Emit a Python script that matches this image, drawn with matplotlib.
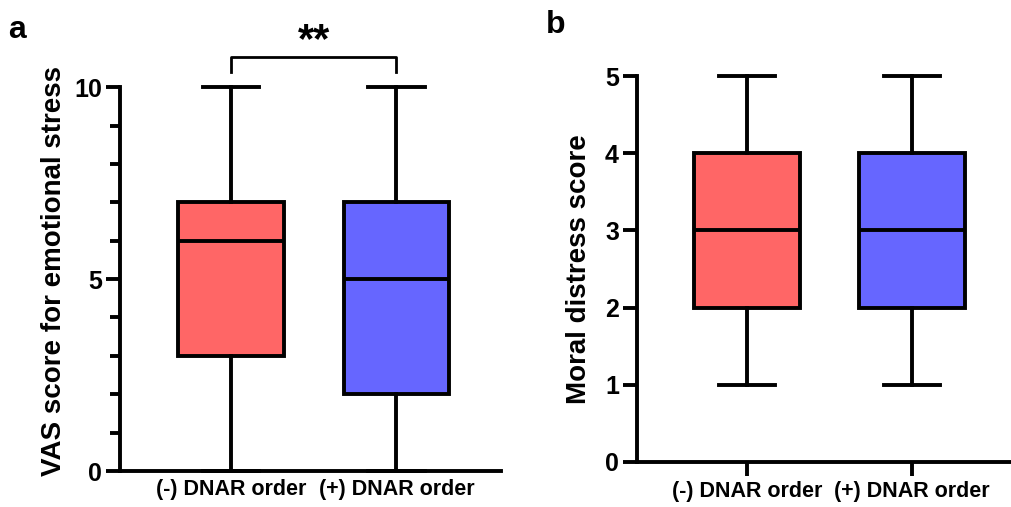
import matplotlib
matplotlib.use("Agg")
import matplotlib.pyplot as plt
from matplotlib.ticker import MultipleLocator

plt.rcParams['font.family'] = ['Liberation Sans', 'DejaVu Sans']
plt.rcParams['font.weight'] = 'bold'

groups = ["(-) DNAR order", "(+) DNAR order"]
colors = ["#FF6666", "#6666FF"]

# panel a: VAS score for emotional stress
vas_min = [0, 0]
vas_q1 = [3, 2]
vas_med = [6, 5]
vas_q3 = [7, 7]
vas_max = [10, 10]

# panel b: moral distress score
md_min = [1, 1]
md_q1 = [2, 2]
md_med = [3, 3]
md_q3 = [4, 4]
md_max = [5, 5]

LW = 2.8


def make_stats(lo, q1, med, q3, hi):
    return [dict(whislo=lo[i], q1=q1[i], med=med[i], q3=q3[i], whishi=hi[i],
                 fliers=[], label=groups[i]) for i in range(len(groups))]


def draw(ax, stats):
    bp = ax.bxp(stats, positions=[1, 2], widths=0.64, patch_artist=True,
                showfliers=False,
                boxprops=dict(linewidth=LW, edgecolor="black"),
                medianprops=dict(linewidth=LW, color="black"),
                whiskerprops=dict(linewidth=LW, color="black"),
                capprops=dict(linewidth=LW, color="black"),
                capwidths=0.34)
    for patch, c in zip(bp["boxes"], colors):
        patch.set_facecolor(c)
    for k in ("boxes", "medians", "whiskers", "caps"):
        for a in bp[k]:
            a.set_clip_on(False)
    for s in ("top", "right"):
        ax.spines[s].set_visible(False)
    for s in ("left", "bottom"):
        ax.spines[s].set_linewidth(LW)
    ax.tick_params(axis="y", width=LW, length=10, labelsize=18, pad=3)
    ax.tick_params(axis="x", width=LW, length=10, labelsize=15.5, pad=4)
    for lab in ax.get_xticklabels() + ax.get_yticklabels():
        lab.set_fontweight("bold")


fig = plt.figure(figsize=(10.12, 5.07), dpi=100)

ax1 = fig.add_axes([0.1186, 0.071, 0.376, 0.757])
draw(ax1, make_stats(vas_min, vas_q1, vas_med, vas_q3, vas_max))
ax1.set_ylim(0, 10)
ax1.set_xlim(0.327, 2.63)
ax1.yaxis.set_major_locator(MultipleLocator(5))
ax1.yaxis.set_minor_locator(MultipleLocator(1))
ax1.tick_params(axis="y", which="minor", width=LW, length=7)
ax1.tick_params(axis="x", length=0, pad=6)
ax1.set_ylabel("VAS score for emotional stress", fontsize=20, fontweight="bold")
ax1.yaxis.set_label_coords(-0.14, 0.52)

# significance bracket
ax1.plot([1, 1, 2, 2], [10.4, 10.8, 10.8, 10.4], color="black", lw=2.0, clip_on=False)
ax1.text(1.5, 10.68, "**", ha="center", va="bottom", fontsize=30, fontweight="bold")

ax2 = fig.add_axes([0.6294, 0.0888, 0.371, 0.761])
draw(ax2, make_stats(md_min, md_q1, md_med, md_q3, md_max))
ax2.set_ylim(0, 5)
ax2.set_xlim(0.333, 2.606)
ax2.yaxis.set_major_locator(MultipleLocator(1))
ax2.set_ylabel("Moral distress score", fontsize=20, fontweight="bold", labelpad=9)

fig.text(0.008, 0.925, "a", fontsize=23, fontweight="bold")
fig.text(0.539, 0.935, "b", fontsize=23, fontweight="bold")

fig.savefig("out.png", dpi=100)
